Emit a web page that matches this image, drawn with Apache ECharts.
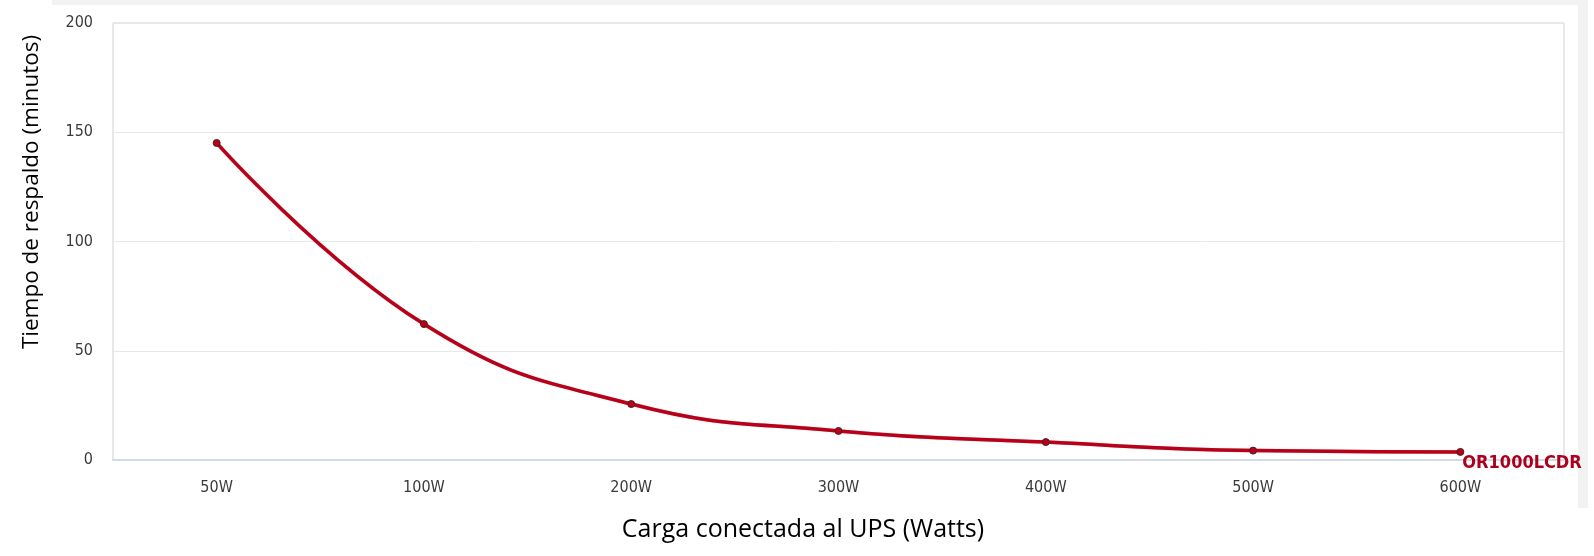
<!DOCTYPE html>
<html><head><meta charset="utf-8">
<script src="https://cdn.jsdelivr.net/npm/echarts@6/dist/echarts.min.js"></script>
<style>html,body{margin:0;padding:0;background:#fff}#c{width:1594px;height:556px}</style>
</head><body><div id="c"></div>
<script>
const categories = ['50W','100W','200W','300W','400W','500W','600W'];
const backupMinutes = [145.1, 62.2, 25.6, 13.3, 8.2, 4.3, 3.7];
const seriesName = 'OR1000LCDR';
const yTicks = [0, 50, 100, 150, 200];
const xTitle = 'Carga conectada al UPS (Watts)';
const yTitle = 'Tiempo de respaldo (minutos)';

const tickFont = '"DejaVu Sans Condensed", "Liberation Sans Narrow", sans-serif';
const chart = echarts.init(document.getElementById('c'), null, {renderer:'canvas'});
chart.setOption({
  animation: false,
  backgroundColor: '#fff',
  graphic: [
    {type:'rect', shape:{x:52,y:0,width:1536,height:5}, style:{fill:'#f2f2f2'}, silent:true, z:-10},
    {type:'rect', shape:{x:1578,y:0,width:10,height:508}, style:{fill:'#f2f2f2'}, silent:true, z:-10},
    {type:'text', x:32, y:192, rotation:Math.PI/2, style:{text:yTitle, fill:'#000', font:'22.5px "Open Sans"', align:'center', verticalAlign:'middle'}},
    {type:'text', x:803, y:530, style:{text:xTitle, fill:'#000', font:'25px "Open Sans"', align:'center', verticalAlign:'middle'}}
  ],
  grid: {left:113, right:30, top:23, bottom:96, show:true, borderColor:'#d0d0d0', borderWidth:1, backgroundColor:'transparent'},
  xAxis: {
    type:'category', data:categories, boundaryGap:true,
    axisLine:{show:true, lineStyle:{color:'#d3dbe3', width:2}},
    axisTick:{show:false},
    axisLabel:{color:'#3a3a3a', fontSize:16, fontFamily:tickFont, margin:20}
  },
  yAxis: {
    type:'value', min:yTicks[0], max:yTicks[yTicks.length-1], interval:50,
    axisLine:{show:false}, axisTick:{show:false},
    splitLine:{lineStyle:{color:'#e8e8e8', width:1}},
    axisLabel:{color:'#3a3a3a', fontSize:16, fontFamily:tickFont, margin:20}
  },
  series: [{
    name: seriesName, type:'line', data:backupMinutes, smooth:0.45,
    symbol:'circle', symbolSize:7,
    itemStyle:{color:'#b8001a', borderColor:'#4a2020', borderWidth:1},
    lineStyle:{color:'#b8001a', width:3.5, shadowColor:'rgba(80,0,0,0.35)', shadowBlur:1},
    endLabel:{show:true, formatter:seriesName, color:'#ad001c', fontWeight:'bold', fontSize:18, fontFamily:tickFont, offset:[-6,11], align:'left', verticalAlign:'middle'}
  }]
});
</script></body></html>
